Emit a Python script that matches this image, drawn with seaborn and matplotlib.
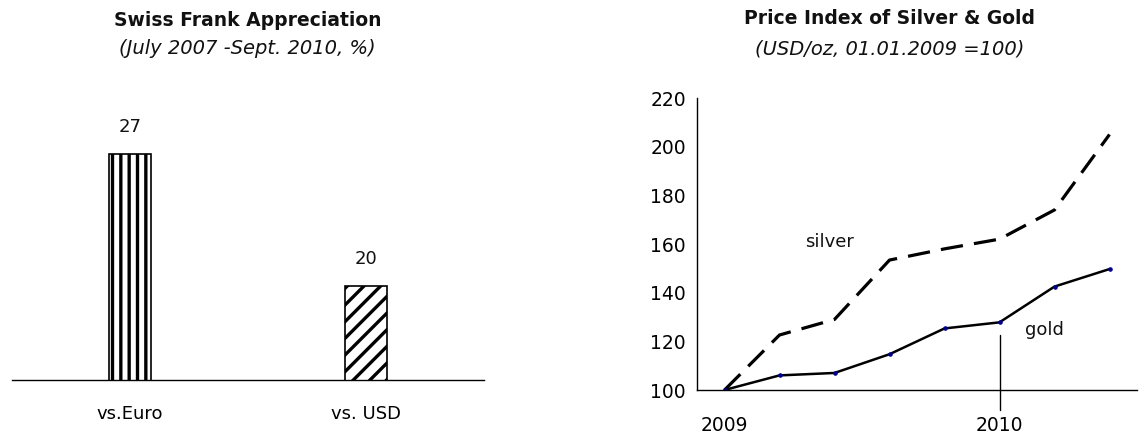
import matplotlib
matplotlib.use("Agg")
import matplotlib.pyplot as plt
import seaborn as sns
import pandas as pd

# --- data -------------------------------------------------------------
bar_categories = ["vs.Euro", "vs. USD"]
appreciation = [27, 20]

period_labels = ["2009", "", "", "", "", "2010", "", ""]
silver = [100, 122.6, 129, 153.4, 158, 162, 174, 205]
gold = [100, 106, 107, 114.7, 125.3, 127.8, 142.5, 149.7]

# --- style ------------------------------------------------------------
sns.set_style("white")
plt.rcParams["font.family"] = ["DejaVu Sans"]
plt.rcParams["axes.edgecolor"] = "black"
plt.rcParams["axes.linewidth"] = 1.0
plt.rcParams["text.color"] = "#111111"
plt.rcParams["xtick.color"] = "black"
plt.rcParams["ytick.color"] = "black"
plt.rcParams["hatch.linewidth"] = 2.4
plt.rcParams["hatch.color"] = "black"

W, H = 1141, 436
fig = plt.figure(figsize=(W / 100, H / 100), dpi=100)

def frac(x0, y0, x1, y1):
    return [x0 / W, 1 - y1 / H, (x1 - x0) / W, (y1 - y0) / H]

# --- left: Swiss franc appreciation bars -------------------------------
ax1 = fig.add_axes(frac(12, 98, 484, 380))
bar_df = pd.DataFrame({"pair": bar_categories, "pct": appreciation})
sns.barplot(data=bar_df, x="pair", y="pct", ax=ax1, width=0.18,
            color="white", edgecolor="black", linewidth=1.2)
for patch, hatch in zip(ax1.patches, ["||", "//"]):
    patch.set_hatch(hatch)
ax1.bar_label(ax1.containers[0], labels=[str(v) for v in appreciation],
              padding=13, fontsize=13)
ax1.set_ylim(15, 30)
ax1.set_xlim(-0.5, 1.5)
ax1.set_xlabel("")
ax1.set_ylabel("")
ax1.set_yticks([])
for side in ["left", "right", "top"]:
    ax1.spines[side].set_visible(False)
ax1.set_xticks([0, 1])
ax1.set_xticklabels(bar_categories, fontsize=13)
ax1.tick_params(axis="x", which="major", length=0, pad=18)
ax1.set_xticks([-0.5, 0.5, 1.5], minor=True)
ax1.tick_params(axis="x", which="minor", length=6, width=1, direction="out")

fig.text(247.5 / W, 1 - 20 / H, "Swiss Frank Appreciation", ha="center",
         va="center", fontsize=13.5, fontweight="bold")
fig.text(247.5 / W, 1 - 49 / H, "(July 2007 -Sept. 2010, %)", ha="center",
         va="center", fontsize=14, fontstyle="italic")

# --- right: silver & gold price index ----------------------------------
ax2 = fig.add_axes(frac(697, 98, 1137, 390))
idx = list(range(len(period_labels)))
line_df = pd.DataFrame({"period": idx, "silver": silver, "gold": gold})
sns.lineplot(data=line_df, x="period", y="silver", ax=ax2, color="black",
             linewidth=2.3, dashes=False)
ax2.lines[-1].set_dashes((7, 3.5))
sns.lineplot(data=line_df, x="period", y="gold", ax=ax2, color="black",
             linewidth=1.8, marker="o", markersize=2.5,
             markerfacecolor="#000090", markeredgecolor="#000090")
ax2.set_ylim(100, 220)
ax2.set_xlim(-0.5, len(period_labels) - 0.5)
ax2.set_yticks(range(100, 221, 20))
ax2.tick_params(axis="y", length=5, width=1, direction="out", pad=3,
                labelsize=13.5)
ax2.set_xticks([i for i, lab in enumerate(period_labels) if lab])
ax2.set_xticklabels([lab for lab in period_labels if lab], fontsize=13.5)
ax2.tick_params(axis="x", which="major", length=0, pad=19)
ax2.set_xticks([i - 0.5 for i in range(len(period_labels) + 1)], minor=True)
ax2.tick_params(axis="x", which="minor", length=6, width=1, direction="out")
ax2.set_xlabel("")
ax2.set_ylabel("")
for side in ["right", "top"]:
    ax2.spines[side].set_visible(False)
# marker line for the start of 2010
ax2.axvline(period_labels.index("2010"), ymin=-0.07, ymax=0.19,
            color="black", linewidth=1, clip_on=False)
ax2.text(1.9, 161, "silver", ha="center", va="center", fontsize=13)
ax2.text(5.81, 124.5, "gold", ha="center", va="center", fontsize=13)

fig.text(890 / W, 1 - 18 / H, "Price Index of Silver & Gold", ha="center",
         va="center", fontsize=13.5, fontweight="bold")
fig.text(890 / W, 1 - 49 / H, "(USD/oz, 01.01.2009 =100)", ha="center",
         va="center", fontsize=14, fontstyle="italic")

fig.savefig("out.png", dpi=100, facecolor="white")
